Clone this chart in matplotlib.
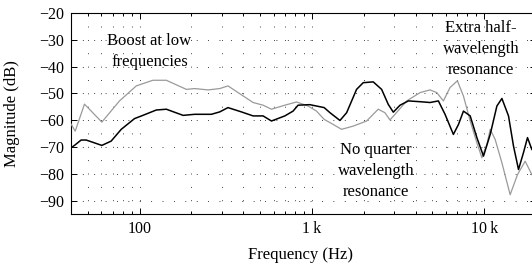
import numpy as np
import matplotlib
matplotlib.use('Agg')
import matplotlib.pyplot as plt
from matplotlib.ticker import FixedLocator, FixedFormatter, NullFormatter

plt.rcParams['font.family'] = ['Liberation Serif', 'DejaVu Serif']
plt.rcParams['font.size'] = 12
plt.rcParams['lines.scale_dashes'] = False

# black curve (frequency in Hz, magnitude in dB)
f_black = [40, 41.9, 45.8, 49.0, 60.4, 68.4, 78.3, 93.5, 104.5, 125, 143, 179, 209,
           261, 292, 326, 390, 456, 521, 583, 697, 778, 832, 973, 1179,
           1274, 1456, 1592, 1818, 1987, 2271, 2541, 2777, 2970, 3250, 3634, 4247, 4855,
           5424, 5930, 6630, 7095, 7585, 8299, 9075, 9914, 10845, 11860, 12680, 13850,
           14800, 15830, 16920, 17850, 18920]
m_black = [-70.3, -69.4, -67.4, -67.4, -69.4, -67.8, -63.4, -59.4, -58.2, -56.2, -55.9, -58.2, -57.8,
           -57.8, -56.9, -55.3, -56.9, -58.4, -58.4, -60.3, -58.4, -56.6, -54.4, -54.2, -55.3,
           -57.2, -60.1, -57.2, -48.5, -46.0, -45.7, -48.5, -54.1, -57.0, -54.4, -52.8, -53.1, -53.4,
           -52.8, -57.8, -65.3, -61.6, -56.6, -58.4, -66.5, -73.4, -65.3, -54.7, -51.9, -58.4,
           -69.6, -78.4, -72.1, -66.5, -70.9]

# gray curve
f_gray = [40.1, 42.3, 47.9, 60.4, 76.5, 95.7, 119.5, 143, 187, 209, 250, 292, 326,
          373, 456, 521, 583, 697, 815, 951, 1064, 1179,
          1274, 1488, 1739, 2079, 2428, 2655, 2840, 3039, 3554, 4247, 4855,
          5309, 5800, 6340, 6996, 7585, 8299, 9075, 9703, 10380, 10845, 11590, 12680,
          14160, 15620, 17300, 18920]
m_gray = [-61.5, -64.1, -54.0, -60.7, -52.8, -47.2, -45.1, -45.1, -48.5, -48.2, -48.7, -48.2, -47.2,
          -49.7, -53.4, -54.4, -55.9, -54.4, -53.2, -54.7, -56.6, -59.7,
          -60.9, -63.4, -62.2, -60.3, -55.9, -57.2, -59.9, -57.8, -52.8, -49.7, -48.7,
          -49.7, -52.8, -47.8, -45.3, -51.0, -60.3, -68.4, -74.0, -69.0, -63.4, -67.2, -75.9,
          -87.8, -80.3, -75.3, -80.3]

xticks = [100, 1000, 10000]
xticklabels = ['100', '1\u2009k', '10\u2009k']
yticks = [-90, -80, -70, -60, -50, -40, -30, -20]

fig = plt.figure(figsize=(5.32, 2.70), dpi=100)
ax = fig.add_axes([71/532, 56/270, 465/532, 201/270])

ax.set_xscale('log')
ax.set_xlim(40, 20000)
ax.set_ylim(-95, -20)

ax.plot(f_gray, m_gray, color='#9a9a9a', lw=0.9, zorder=3)
ax.plot(f_black, m_black, color='black', lw=1.1, zorder=4)

ax.xaxis.set_major_locator(FixedLocator(xticks))
ax.xaxis.set_major_formatter(FixedFormatter(xticklabels))
minors = [m * d for d in [10, 100, 1000, 10000] for m in range(2, 10)]
ax.xaxis.set_minor_locator(FixedLocator([v for v in minors if 40 <= v <= 20000]))
ax.xaxis.set_minor_formatter(NullFormatter())
ax.set_yticks(yticks)

ax.tick_params(which='both', direction='in', top=True, right=True, width=0.7, labelsize=11.5)
ax.tick_params(which='major', length=4)
ax.tick_params(which='minor', length=2.5)
ax.tick_params(axis='x', pad=5)
ax.tick_params(axis='y', pad=5)

# dotted grid
ax.grid(True, axis='x', which='both', color='black', lw=0.6,
        linestyle=(0, (0.6, 9.02)))
ax.grid(True, axis='y', which='major', color='black', lw=0.6,
        linestyle=(0, (0.6, 7.6)))

for s in ax.spines.values():
    s.set_linewidth(0.8)

ax.set_xlabel('Frequency (Hz)')
ax.xaxis.set_label_coords(0.4925, -0.204)
ax.xaxis.label.set_va('center')
ax.set_ylabel('Magnitude (dB)')
ax.yaxis.set_label_coords(-0.127, 0.5)
ax.yaxis.label.set_va('center')

ax.text(114, -34.4, 'Boost at low\nfrequencies', ha='center', va='center', linespacing=1.4)
ax.text(9620, -33.5, 'Extra half-\nwavelength\nresonance', ha='center', va='center', linespacing=1.4)
ax.text(2355, -79.0, 'No quarter\nwavelength\nresonance', ha='center', va='center', linespacing=1.4)

fig.savefig('out.png', dpi=100)
